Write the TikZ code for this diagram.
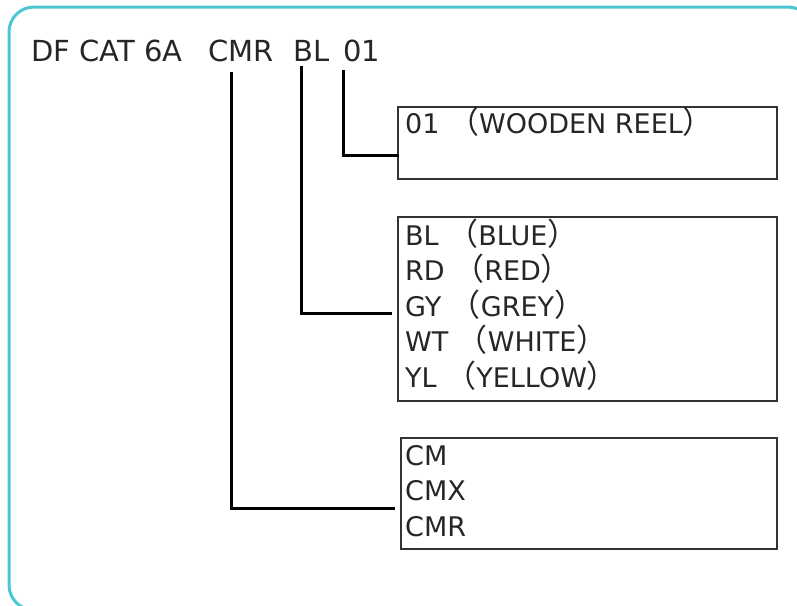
\documentclass[tikz,border=0pt]{standalone}
\usepackage{fontspec}
\setmainfont{DejaVu Sans}
\newfontfamily\cjk{Noto Sans CJK SC}
\newcommand\lpar{{\cjk\fontsize{31}{35.5}\selectfont （}}
\newcommand\rpar{{\cjk\fontsize{31}{35.5}\selectfont ）}}
\usetikzlibrary{positioning}
\definecolor{frameteal}{HTML}{4BC6D3}
\tikzset{
  entry/.style={font=\fontsize{27}{35.5}\selectfont, align=left, inner sep=0pt, text=black!85, anchor=base west},
  lead/.style={draw, line width=3pt, line cap=rect}
}

\begin{document}
\begin{tikzpicture}[x=1pt, y=-1pt,
  box/.style={draw=black!80, line width=1.6pt, anchor=north west, inner sep=0pt},
  code/.style={font=\fontsize{29}{34}\selectfont, anchor=base west, inner sep=0pt, text=black!85}]
\useasboundingbox (0,0) rectangle (797,605);
\draw[frameteal, line width=3pt, rounded corners=25pt] (9,7) rectangle (813,610);
% part number
\node[code] (cat) at (31,61) {DF CAT 6A};
\node[code] (jacket) at (208,61) {CMR};
\node[code] (colour) at (293,61) {BL};
\node[code] (reel) at (343,61) {01};
% option boxes
\node[box, minimum width=379pt, minimum height=72pt] (reelbox) at (397,106) {};
\node[box, minimum width=379pt, minimum height=184pt] (colourbox) at (397,216) {};
\node[box, minimum width=376pt, minimum height=111pt] (jacketbox) at (400,437) {};
% lists (base = last line)
\node[entry] (reellist) at (405,133) {01 \lpar WOODEN REEL\rpar};
\node[entry] (colourlist) at (405,387) {BL \lpar BLUE\rpar\\RD \lpar RED\rpar\\GY \lpar GREY\rpar\\WT \lpar WHITE\rpar\\YL \lpar YELLOW\rpar};
\node[entry] (jacketlist) at (405,536) {CM\\CMX\\CMR};
% leads
\coordinate (reeltop) at (343,71);
\coordinate (reelend) at (397,155);
\coordinate (colourtop) at (301,67);
\coordinate (colourend) at (390,313);
\coordinate (jackettop) at (231,73);
\coordinate (jacketend) at (393,508);
\draw[lead] (reeltop) |- (reelend);
\draw[lead] (colourtop) |- (colourend);
\draw[lead] (jackettop) |- (jacketend);
\end{tikzpicture}
\end{document}
